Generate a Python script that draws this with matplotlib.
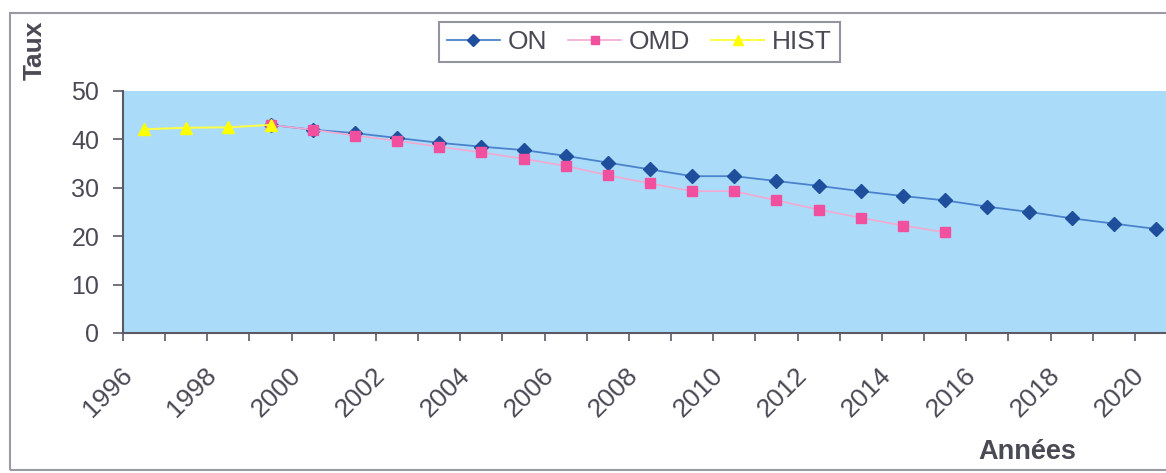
import numpy as np
import matplotlib
matplotlib.use("Agg")
import matplotlib.pyplot as plt
from matplotlib.patches import Rectangle
from matplotlib.transforms import ScaledTranslation

plt.rcParams['font.family'] = ['Liberation Sans', 'DejaVu Sans']

years = [1996, 1997, 1998, 1999, 2000, 2001, 2002, 2003, 2004, 2005, 2006, 2007,
         2008, 2009, 2010, 2011, 2012, 2013, 2014, 2015, 2016, 2017, 2018, 2019, 2020]
on_vals = [None, None, None, 43.0, 42.0, 41.3, 40.3, 39.3, 38.5, 37.8, 36.6, 35.2,
           33.8, 32.4, 32.4, 31.4, 30.4, 29.3, 28.3, 27.4, 26.1, 25.0, 23.7, 22.6, 21.5]
omd_vals = [None, None, None, 43.0, 42.0, 40.8, 39.7, 38.5, 37.3, 36.0, 34.5, 32.6,
            30.9, 29.3, 29.3, 27.4, 25.5, 23.8, 22.2, 20.8, None, None, None, None, None]
hist_vals = [42.1, 42.4, 42.5, 43.0, None, None, None, None, None, None, None, None,
             None, None, None, None, None, None, None, None, None, None, None, None, None]
y_ticks = [0, 10, 20, 30, 40, 50]

W, H = 1166, 473
fig = plt.figure(figsize=(W / 100, H / 100), dpi=100)
fig.patch.set_facecolor('white')

# outer chart frame
fig.patches.append(Rectangle((10 / W, 1 - 470 / H), 1.2, (470 - 13) / H,
                             transform=fig.transFigure, fill=False,
                             edgecolor='#9a9aa4', linewidth=1.5))

left, right, top, bottom = 123, 1177, 91, 333
ax = fig.add_axes([left / W, 1 - bottom / H, (right - left) / W, (bottom - top) / H])
ax.set_facecolor('#aadcfa')

def arr(v):
    return np.array([np.nan if x is None else x for x in v], dtype=float)

x = np.arange(len(years))
text_col = '#4a4a55'

ax.plot(x, arr(on_vals), color='#4a82cc', lw=1.3, marker='D', ms=7,
        mfc='#1f4f9c', mec='#1f4f9c', label='ON', zorder=3)
ax.plot(x, arr(omd_vals), color='#f4a8d0', lw=1.2, marker='s', ms=7.5,
        mfc='#f0509e', mec='#f0509e', label='OMD', zorder=4)
ax.plot(x, arr(hist_vals), color='#ffff40', lw=1.4, marker='^', ms=9,
        mfc='#ffff00', mec='#ffff00', label='HIST', zorder=5)

ax.set_xlim(-0.5, len(years) - 0.5)
ax.set_ylim(0, 50)
ax.set_yticks(y_ticks)
ax.set_yticklabels([str(t) for t in y_ticks])

# category boundaries as tick marks, labels at every other category centre
ax.set_xticks(np.arange(-0.5, len(years), 1.0))
ax.set_xticklabels([])
ax.set_xticks(x[::2], minor=True)
ax.set_xticklabels([str(y) for y in years[::2]], minor=True)
ax.tick_params(axis='x', which='major', direction='out', length=6, width=1.2,
               color='#5a5a66')
ax.tick_params(axis='x', which='minor', length=0, pad=27.5, labelsize=19,
               labelcolor=text_col)
ax.tick_params(axis='y', direction='out', length=7, width=1.2, color='#5a5a66',
               pad=10, labelsize=18, labelcolor=text_col)

offset = ScaledTranslation(-15.5 / 100, 0, fig.dpi_scale_trans)
for lab in ax.get_xticklabels(minor=True):
    lab.set_rotation(45)
    lab.set_ha('right')
    lab.set_va('center')
    lab.set_rotation_mode('anchor')
    lab.set_transform(lab.get_transform() + offset)

for s in ['top', 'right']:
    ax.spines[s].set_visible(False)
for s in ['left', 'bottom']:
    ax.spines[s].set_color('#5a5a66')
    ax.spines[s].set_linewidth(1.5)

fig.text(35 / W, 1 - 50 / H, 'Taux', rotation=90, ha='center', va='center',
         fontsize=19, fontweight='bold', color=text_col)
fig.text(1027 / W, 1 - 452 / H, 'Années', ha='center', va='center',
         fontsize=19.5, fontweight='bold', color=text_col)

leg = fig.legend(loc='center', bbox_to_anchor=(639.5 / W, 1 - 42 / H), ncol=3,
                 fontsize=19, frameon=True, fancybox=False, handlelength=2.0,
                 handletextpad=0.3, columnspacing=0.8, borderpad=0.3,
                 markerscale=0.85, labelcolor=text_col)
leg.get_frame().set_edgecolor('#7a7a86')
leg.get_frame().set_linewidth(1.5)

fig.savefig('out.png', dpi=100)
